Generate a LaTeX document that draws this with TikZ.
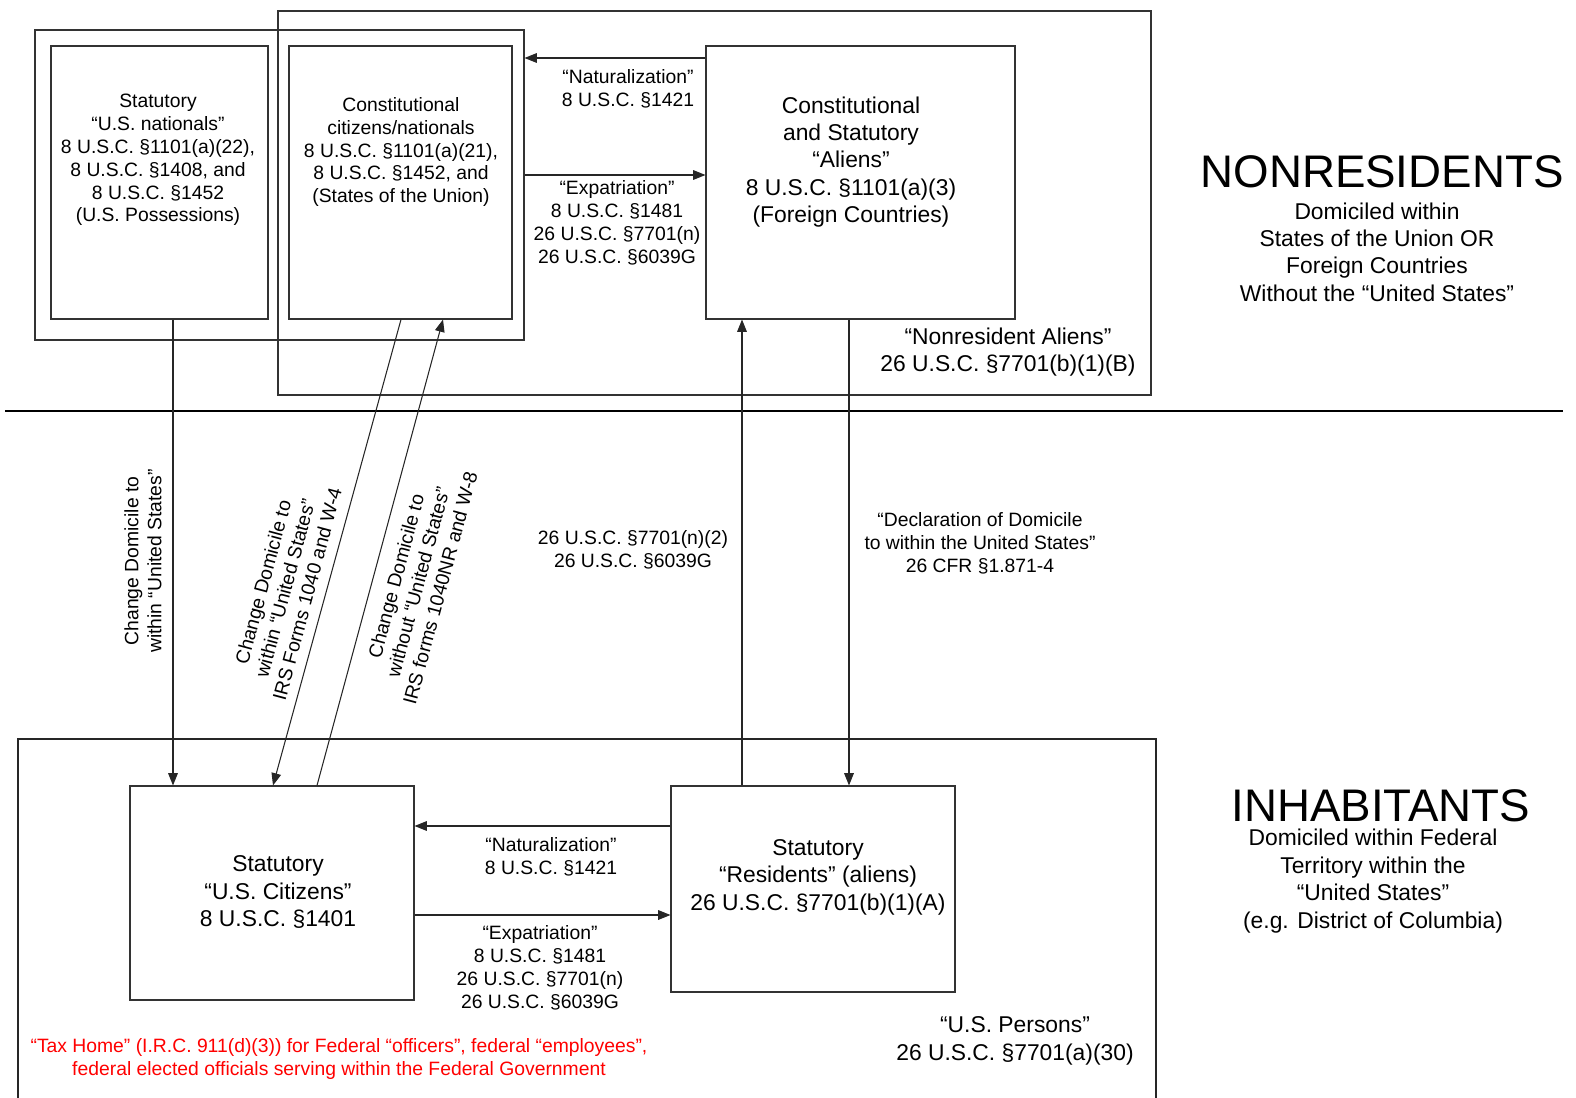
\documentclass[tikz,border=0pt]{standalone}
\usepackage{fontspec}
\setmainfont{Liberation Sans}
\usetikzlibrary{positioning, arrows.meta, fit}

\begin{document}
\begin{tikzpicture}[x=0.02cm, y=-0.02cm, line width=0.6pt,
  box/.style={draw=black!80, inner sep=0pt, fit={#1}},
  arr/.style={-{Triangle[length=7pt,width=5.5pt]}, draw=black!85},
  small/.style={font=\fontsize{11}{13}\selectfont, align=center, inner sep=0pt},
  mid/.style={font=\fontsize{13}{15.6}\selectfont, align=center, inner sep=0pt},
  title/.style={font=\fontsize{26}{30}\selectfont, inner sep=0pt}]

\useasboundingbox (0,0) rectangle (1576,1098);

% boxes
\node[box={(278,11) (1151,395)}] (nonres) {};
\node[box={(35,30) (524,340)}] (natouter) {};
\node[box={(51,46) (268,319)}] (usnat) {};
\node[box={(289,46) (512,319)}] (const) {};
\node[box={(706,46) (1015,319)}] (alien) {};
\node[box={(130,786) (414,1000)}] (uscit) {};
\node[box={(671,786) (955,992)}] (resid) {};
\draw[black!85] (18,1098) -- (18,739) -- (1156,739) -- (1156,1098);
\draw (5,411) -- (1563,411);

% box texts
\node[small] (usnattxt) at (158,160) {Statutory\\“U.S. nationals”\\8 U.S.C. §1101(a)(22),\\8 U.S.C. §1408, and\\8 U.S.C. §1452\\(U.S. Possessions)};
\node[small] (consttxt) at (401,152) {Constitutional\\citizens/nationals\\8 U.S.C. §1101(a)(21),\\8 U.S.C. §1452, and\\(States of the Union)};
\node[mid] (alientxt) at (851,162) {Constitutional\\and Statutory\\“Aliens”\\8 U.S.C. §1101(a)(3)\\(Foreign Countries)};
\node[mid] (uscittxt) at (278,892) {Statutory\\“U.S. Citizens”\\8 U.S.C. §1401};
\node[mid] (residtxt) at (818,877) {Statutory\\“Residents” (aliens)\\26 U.S.C. §7701(b)(1)(A)};
\node[mid] (nrtxt) at (1008,352) {“Nonresident Aliens”\\26 U.S.C. §7701(b)(1)(B)};
\node[mid] (uptxt) at (1015,1041) {“U.S. Persons”\\26 U.S.C. §7701(a)(30)};
\node[small, text=red] (taxhome) at (339,1059) {“Tax Home” (I.R.C. 911(d)(3)) for Federal “officers”, federal “employees”,\\federal elected officials serving within the Federal Government};

% side titles
\node[title] (nonrestitle) at (1382,172) {NONRESIDENTS};
\node[mid] (nonressub) at (1377,252) {Domiciled within\\States of the Union OR\\Foreign Countries\\Without the “United States”};
\node[title] (inhabtitle) at (1381,806) {INHABITANTS};
\node[mid] (inhabsub) at (1373,881) {Domiciled within Federal\\Territory within the\\“United States”\\(e.g. District of Columbia)};

% connectors
\draw[arr] (alien.west |- 0,58) -- (natouter.east |- 0,58);
\draw[arr] (natouter.east |- 0,175) -- (alien.west |- 0,175);
\draw[arr] (usnat.south -| 173,0) -- (uscit.north -| 173,0);
\draw[arr] (const.south -| 401,0) -- (uscit.north -| 273,0);
\draw[arr] (uscit.north -| 317,0) -- (const.south -| 443,0);
\draw[arr] (resid.north -| 742,0) -- (alien.south -| 742,0);
\draw[arr] (alien.south -| 849,0) -- (resid.north -| 849,0);
\draw[arr] (resid.west |- 0,826) -- (uscit.east |- 0,826);
\draw[arr] (uscit.east |- 0,915) -- (resid.west |- 0,915);

% connector labels
\node[small] (natlbl) at (628,89) {“Naturalization”\\8 U.S.C. §1421};
\node[small] (expatlbl) at (617,223) {“Expatriation”\\8 U.S.C. §1481\\26 U.S.C. §7701(n)\\26 U.S.C. §6039G};
\node[small, rotate=90] (chglbl) at (143,561) {Change Domicile to\\within “United States”};
\node[small, rotate=75] (w4lbl) at (285,588) {Change Domicile to\\within “United States”\\IRS Forms 1040 and W-4};
\node[small, rotate=75] (w8lbl) at (418,582) {Change Domicile to\\without “United States”\\IRS forms 1040NR and W-8};
\node[small] (n2lbl) at (633,550) {26 U.S.C. §7701(n)(2)\\26 U.S.C. §6039G};
\node[small] (decllbl) at (980,543) {“Declaration of Domicile\\to within the United States”\\26 CFR §1.871-4};
\node[small] (natlbl2) at (551,857) {“Naturalization”\\8 U.S.C. §1421};
\node[small] (expatlbl2) at (540,968) {“Expatriation”\\8 U.S.C. §1481\\26 U.S.C. §7701(n)\\26 U.S.C. §6039G};

\end{tikzpicture}
\end{document}
